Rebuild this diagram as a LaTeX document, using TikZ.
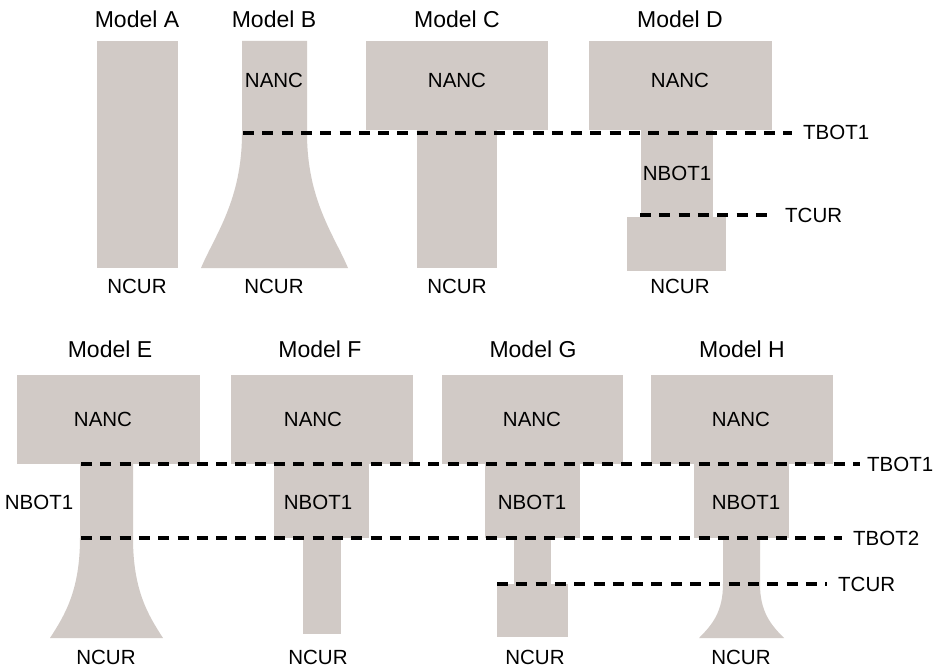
\documentclass[tikz,border=0pt]{standalone}
\usepackage{fontspec}
\setmainfont{Liberation Sans}
\definecolor{boxgray}{RGB}{209,202,198}
\begin{document}
\begin{tikzpicture}[x=1pt,y=-1pt,
  title/.style={font=\fontsize{23}{27}\selectfont, inner sep=0pt},
  lbl/.style={font=\fontsize{20.5}{24}\selectfont, inner sep=0pt},
  rlbl/.style={lbl, anchor=west},
  pop/.style={fill=boxgray},
  thr/.style={line width=4.2pt, dash pattern=on 11pt off 8.3pt, black}]
\useasboundingbox[fill=white] (0,0) rectangle (938,669);

% ---------- top row shapes ----------
% Model A
\fill[pop] (97,41) rectangle (178,268);
% Model B
\fill[pop] (242,41) -- (307,41) -- (307,133)
  .. controls (307,200) and (334,235) .. (348,268) -- (201,268)
  .. controls (215,235) and (242,200) .. (242,133) -- cycle;
% Model C
\fill[pop] (366,41) rectangle (548,130);
\fill[pop] (417,129) rectangle (497,268);
% Model D
\fill[pop] (589,41) rectangle (772,130);
\fill[pop] (641,129) rectangle (713,218);
\fill[pop] (627,217) rectangle (726,271);

% ---------- bottom row shapes ----------
% Model E
\fill[pop] (17,375) rectangle (200,464);
\fill[pop] (80,463) -- (133,463) -- (133,538)
  .. controls (133,590) and (148,615) .. (163,638) -- (50,638)
  .. controls (65,615) and (80,590) .. (80,538) -- cycle;
% Model F
\fill[pop] (231,375) rectangle (413,464);
\fill[pop] (274,463) rectangle (369,538);
\fill[pop] (303,537) rectangle (341,634);
% Model G
\fill[pop] (442,375) rectangle (623,464);
\fill[pop] (485,463) rectangle (580,538);
\fill[pop] (514,537) rectangle (551,585);
\fill[pop] (497,584) rectangle (568,637);
% Model H
\fill[pop] (651,375) rectangle (833,464);
\fill[pop] (694,463) rectangle (789,538);
\fill[pop] (723,537) -- (760,537) -- (760,584)
  .. controls (760,612) and (771,625) .. (784,638) -- (699,638)
  .. controls (712,625) and (723,612) .. (723,584) -- cycle;

% ---------- threshold lines ----------
\coordinate (t1a) at (243,133); \coordinate (t1b) at (792,133);
\coordinate (tca) at (640,215); \coordinate (tcb) at (773,215);
\coordinate (b1a) at (81,464);  \coordinate (b1b) at (860,464);
\coordinate (b2a) at (81,538);  \coordinate (b2b) at (842,538);
\coordinate (bca) at (497,584); \coordinate (bcb) at (827,584);
\draw[thr] (t1a) -- (t1b);
\draw[thr] (tca) -- (tcb);
\draw[thr] (b1a) -- (b1b);
\draw[thr] (b2a) -- (b2b);
\draw[thr] (bca) -- (bcb);

% ---------- texts: top row ----------
\node[title] (mA) at (137,19) {Model A};
\node[title] (mB) at (274,19) {Model B};
\node[title] (mC) at (457,19) {Model C};
\node[title] (mD) at (680,19) {Model D};
\node[lbl] (nB) at (274,80) {NANC};
\node[lbl] (nC) at (457,80) {NANC};
\node[lbl] (nD) at (680,80) {NANC};
\node[lbl] (bD) at (677,173) {NBOT1};
\node[lbl] (cA) at (137,286) {NCUR};
\node[lbl] (cB) at (274,286) {NCUR};
\node[lbl] (cC) at (457,286) {NCUR};
\node[lbl] (cD) at (680,286) {NCUR};
\node[rlbl] (lt1) at (803,132) {TBOT1};
\node[rlbl] (ltc) at (785,215) {TCUR};

% ---------- texts: bottom row ----------
\node[title] (mE) at (110,349) {Model E};
\node[title] (mF) at (320,349) {Model F};
\node[title] (mG) at (533,349) {Model G};
\node[title] (mH) at (742,349) {Model H};
\node[lbl] (nE) at (103,419) {NANC};
\node[lbl] (nF) at (313,419) {NANC};
\node[lbl] (nG) at (532,419) {NANC};
\node[lbl] (nH) at (741,419) {NANC};
\node[lbl] (bE) at (39,502) {NBOT1};
\node[lbl] (bF) at (318,502) {NBOT1};
\node[lbl] (bG) at (532,502) {NBOT1};
\node[lbl] (bH) at (746,502) {NBOT1};
\node[lbl] (cE) at (106,657) {NCUR};
\node[lbl] (cF) at (318,657) {NCUR};
\node[lbl] (cG) at (535,657) {NCUR};
\node[lbl] (cH) at (741,657) {NCUR};
\node[rlbl] (lb1) at (867,464) {TBOT1};
\node[rlbl] (lb2) at (853,538) {TBOT2};
\node[rlbl] (lbc) at (838,584) {TCUR};
\end{tikzpicture}
\end{document}
